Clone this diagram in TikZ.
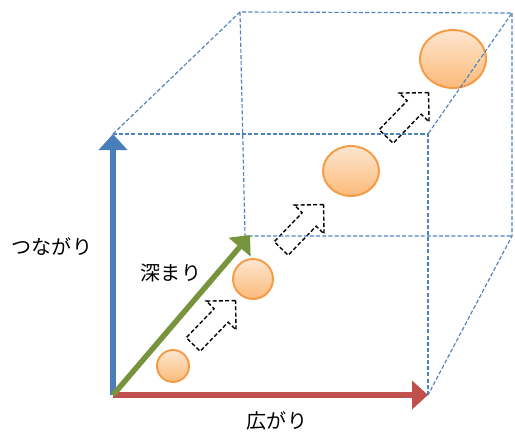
\documentclass[tikz,border=0pt]{standalone}
\usepackage{fontspec}
\newfontfamily\jpfont{Noto Sans CJK JP}
\definecolor{axisblue}{HTML}{4A7EBB}
\definecolor{axisred}{HTML}{C0504D}
\definecolor{axisgreen}{HTML}{77933C}
\definecolor{edgeblue}{HTML}{4F81BD}
\definecolor{balltop}{HTML}{FDE6CF}
\definecolor{ballbot}{HTML}{FBBA7A}
\definecolor{ballline}{HTML}{F59A45}
\usetikzlibrary{shapes.geometric,shapes.arrows,arrows.meta,positioning}

\begin{document}
\begin{tikzpicture}[
  x=0.02cm, y=-0.02cm,
  axis/.style={line width=3.1pt, -{Triangle[width=0.56cm,length=0.32cm]}},
  edge/.style={draw=edgeblue, line width=0.65pt, dash pattern=on 2.3pt off 1.2pt},
  ball/.style={ellipse, draw=ballline, line width=1.1pt, top color=balltop, bottom color=ballbot, inner sep=0pt},
  stepper/.style={single arrow, draw=black, line width=0.8pt, dash pattern=on 2.3pt off 1.3pt,
    inner xsep=0pt, inner ysep=0.18cm, minimum height=1.22cm, single arrow head extend=0.22cm,
    single arrow tip angle=90, rotate=46},
  label/.style={font=\jpfont\fontsize{11.4pt}{13pt}\selectfont, inner sep=0pt},
]
\useasboundingbox (0,0) rectangle (515,434);

% corners of the box
\coordinate (o)   at (113,395);
\coordinate (ftl) at (113,134);
\coordinate (ftr) at (428,134);
\coordinate (fbr) at (428,395);
\coordinate (btl) at (240,12);
\coordinate (btr) at (512,13);
\coordinate (bbl) at (245,236);
\coordinate (bbr) at (512,236);
\coordinate (gtip) at (250,235);

% growing balls and steps between them
\node[ball, minimum width=0.64cm, minimum height=0.64cm] (c1) at (173,366) {};
\node[ball, minimum width=0.80cm, minimum height=0.80cm] (c2) at (253,279) {};
\node[ball, minimum width=1.12cm, minimum height=1.00cm] (c3) at (351,171) {};
\node[ball, minimum width=1.32cm, minimum height=1.16cm] (c4) at (453,59) {};
\node[stepper] (s1) at (211,326) {};
\node[stepper] (s2) at (299,230) {};
\node[stepper] (s3) at (404,118) {};

% dashed box
\draw[edge] (ftl) -- (ftr) -- (fbr);
\draw[edge] (ftl) -- (btl) -- (btr) -- (ftr);
\draw[edge] (btr) -- (bbr) -- (fbr);
\draw[edge] (btl) -- (bbl) -- (bbr);

% axes
\draw[axis, axisblue] (o) -- (ftl);
\draw[axis, axisred] (o) -- (fbr);
\draw[axis, axisgreen] (o) -- (gtip);

\node[label] (tsunagari) at (52,247) {つながり};
\node[label] (fukamari) at (171,273) {深まり};
\node[label] (hirogari) at (277,421) {広がり};
\end{tikzpicture}
\end{document}
